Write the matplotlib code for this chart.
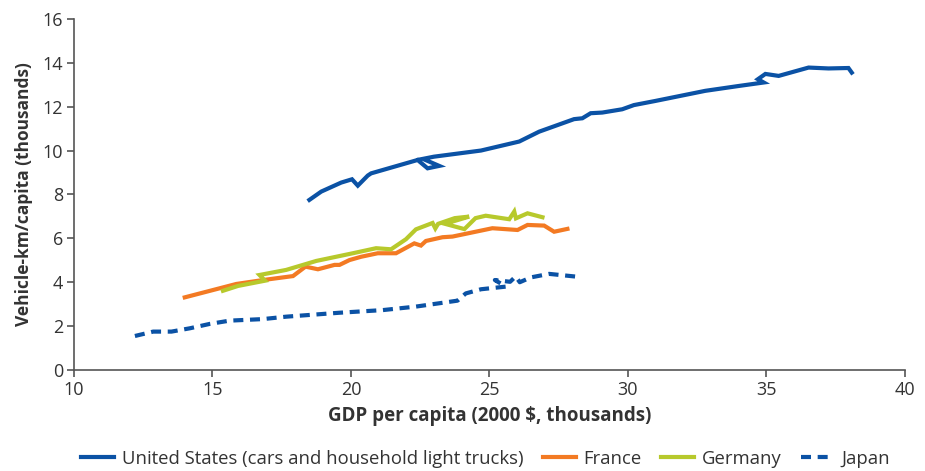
import matplotlib.pyplot as plt

# vehicle-km per capita (thousands) vs GDP per capita (2000 $, thousands)
us_gdp = [18.5, 18.93, 19.65, 20.04, 20.25, 20.61, 20.73, 22.41, 22.77, 23.19, 22.6,
          23.0, 24.7, 26.08, 26.8, 28.06, 28.36, 28.66, 29.08, 29.8, 30.22, 31.0,
          32.8, 34.0, 34.91, 34.7, 34.97, 35.45, 36.53, 37.25, 37.97, 38.09]
us_vkm = [7.75, 8.13, 8.54, 8.69, 8.40, 8.86, 8.96, 9.57, 9.19, 9.30, 9.62,
          9.72, 10.0, 10.41, 10.86, 11.43, 11.47, 11.70, 11.73, 11.88, 12.07, 12.26,
          12.72, 12.94, 13.10, 13.25, 13.49, 13.40, 13.78, 13.74, 13.76, 13.55]

fr_gdp = [14.0, 15.86, 16.83, 17.91, 18.36, 18.81, 19.41, 19.59, 19.95, 20.37, 20.97,
          21.63, 22.29, 22.53, 22.71, 23.31, 23.67, 25.11, 26.02, 26.38, 26.98, 27.34, 27.82]
fr_vkm = [3.31, 3.92, 4.10, 4.28, 4.71, 4.59, 4.79, 4.79, 5.01, 5.16, 5.32,
          5.32, 5.77, 5.67, 5.88, 6.05, 6.08, 6.46, 6.38, 6.61, 6.58, 6.30, 6.43]

de_gdp = [15.38, 15.92, 16.9, 16.7, 17.66, 18.75, 20.07, 20.91, 21.45, 21.99, 22.35,
          22.95, 23.05, 23.15, 23.75, 24.27, 23.4, 24.1, 24.5, 24.87, 25.72, 25.9,
          25.96, 26.38, 26.92]
de_vkm = [3.61, 3.83, 4.07, 4.33, 4.56, 4.97, 5.32, 5.55, 5.50, 5.96, 6.41,
          6.70, 6.45, 6.66, 6.92, 6.99, 6.66, 6.42, 6.92, 7.03, 6.87, 7.22,
          6.91, 7.14, 6.96]

jp_gdp = [12.2, 12.86, 13.52, 14.18, 14.9, 15.62, 16.82, 17.66, 19.59, 21.15, 22.35,
          23.85, 24.15, 24.7, 25.6, 25.2, 25.75, 25.95, 26.1, 26.5, 27.16, 28.18]
jp_vkm = [1.55, 1.75, 1.75, 1.90, 2.10, 2.25, 2.32, 2.43, 2.61, 2.73, 2.89,
          3.16, 3.49, 3.68, 3.80, 4.10, 4.02, 4.26, 4.00, 4.22, 4.38, 4.25]

blue = '#0b52a5'
orange = '#f37a23'
green = '#b7c92c'

plt.rcParams['font.family'] = ['Open Sans', 'DejaVu Sans']

fig = plt.figure(figsize=(9.25, 4.71), dpi=100)
ax = fig.add_axes([0.08, 0.2144, 0.898, 0.7456])

lw = 3
ax.plot(us_gdp, us_vkm, color=blue, lw=lw, solid_joinstyle='miter',
        label='United States (cars and household light trucks)')
ax.plot(fr_gdp, fr_vkm, color=orange, lw=lw, solid_joinstyle='miter', label='France')
ax.plot(de_gdp, de_vkm, color=green, lw=lw, solid_joinstyle='miter', label='Germany')
ax.plot(jp_gdp, jp_vkm, color=blue, lw=lw, dashes=(2.4, 1.6), label='Japan')

ax.set_xlim(10, 40)
ax.set_ylim(0, 16)
ax.set_xticks(range(10, 41, 5))
ax.set_yticks(range(0, 17, 2))

for s in ['top', 'right']:
    ax.spines[s].set_visible(False)
for s in ['left', 'bottom']:
    ax.spines[s].set_color('#555555')
    ax.spines[s].set_linewidth(1.2)
ax.tick_params(direction='out', length=5, width=1.2, color='#555555',
               labelsize=13, labelcolor='#333333', pad=3)

ax.set_xlabel('GDP per capita (2000 $, thousands)', fontsize=13.5, fontweight='bold',
              color='#333333', labelpad=5)
ax.set_ylabel('Vehicle-km/capita (thousands)', fontsize=12.5, fontweight='bold',
              color='#333333', labelpad=7)

fig.legend(loc='center', bbox_to_anchor=(0.525, 0.026), ncol=4, frameon=False,
           fontsize=13.3, handlelength=1.8, columnspacing=1.05, handletextpad=0.4,
           borderpad=0.1, labelcolor='#333333')

fig.savefig('out.png', dpi=100)
